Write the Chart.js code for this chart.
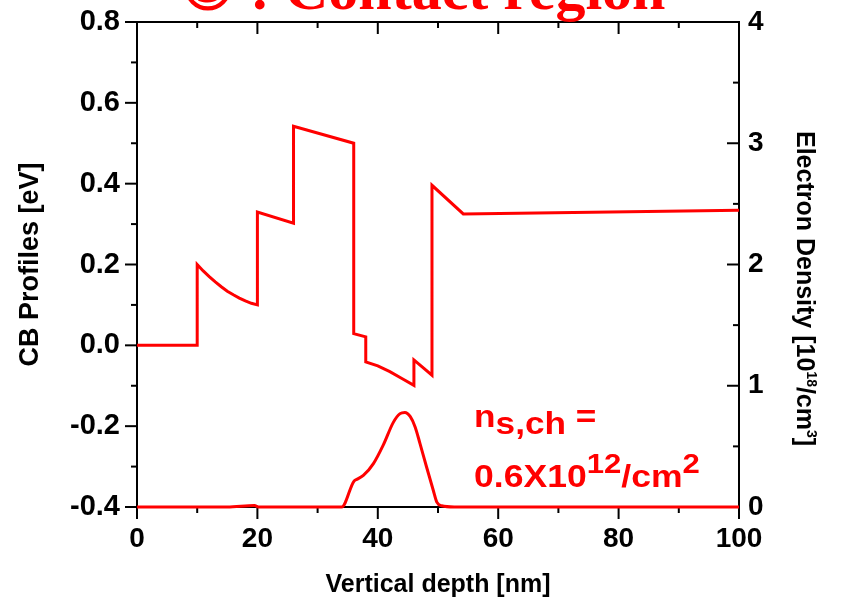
<!DOCTYPE html>
<html>
<head>
<meta charset="utf-8">
<script src="https://cdn.jsdelivr.net/npm/chart.js@4.4.1/dist/chart.umd.min.js"></script>
<style>
  html, body { margin: 0; padding: 0; background: #fff; }
  #wrap { width: 842px; height: 602px; }
</style>
</head>
<body>
<div id="wrap"><canvas id="bandChart" width="842" height="602"></canvas></div>
<script>
// conduction band profile, left axis [eV]
const cbDepth  = [0, 10, 10, 11, 12, 13, 14, 15, 16, 17, 18, 19, 20, 20, 26, 26, 36, 36, 38, 38, 40, 42, 44, 46, 46, 49, 49, 54.2, 100];
const cbEnergy = [0, 0, 0.200, 0.184, 0.170, 0.157, 0.145, 0.134, 0.125, 0.117, 0.110, 0.104, 0.100,
                  0.330, 0.302, 0.542, 0.500, 0.029, 0.021, -0.041, -0.051, -0.065, -0.082, -0.099,
                  -0.036, -0.074, 0.396, 0.325, 0.334];

// electron density, right axis [1e18 / cm3]
const nDepth   = [0, 15, 19.5, 20.3, 34, 36, 36.6, 37.6, 39.3, 40.9, 42.6, 43.7, 44.5, 45.4, 46.2, 47, 48.1, 49.2, 49.8, 50.6, 52.7, 100];
const nDensity = [0, 0, 0.012, 0, 0, 0.21, 0.23, 0.26, 0.36, 0.51, 0.70, 0.77, 0.78, 0.745, 0.66, 0.525, 0.33, 0.14, 0.04, 0.01, 0, 0];

// tick labels
const xTicks  = [0, 20, 40, 60, 80, 100];
const yTicks  = [-0.4, -0.2, 0.0, 0.2, 0.4, 0.6, 0.8];
const y2Ticks = [0, 1, 2, 3, 4];

const RED = '#ff0000';
const SANS = '"Liberation Sans", Arial, sans-serif';

const toPoints = (xs, ys) => xs.map((x, i) => ({ x: x, y: ys[i] }));
const midpoints = arr => arr.slice(1).map((v, i) => (v + arr[i]) / 2);

// fixed axis boxes so the plot area lands where the original has it
const fixBox = (w, h) => s => {
    if (w !== null) s.width = w;
    if (h !== null) s.height = h;
    s.paddingTop = 0;
    s.paddingBottom = 0;
    s.paddingLeft = 0;
    s.paddingRight = 0;
};

// frame + Origin-style ticks (all pointing the same way on both sides)
const frameTicks = {
    id: 'frameTicks',
    beforeDatasetsDraw(chart) {
        const { ctx, chartArea: a, scales } = chart;
        ctx.save();
        ctx.strokeStyle = '#000';
        ctx.lineWidth = 2;
        ctx.strokeRect(a.left, a.top, a.right - a.left, a.bottom - a.top);

        const seg = (x1, y1, x2, y2) => {
            ctx.beginPath();
            ctx.moveTo(x1, y1);
            ctx.lineTo(x2, y2);
            ctx.stroke();
        };
        const xMark = (v, len) => {
            const px = scales.x.getPixelForValue(v);
            seg(px, a.bottom, px, a.bottom + len);
            seg(px, a.top, px, a.top + len);
        };
        xTicks.forEach(v => xMark(v, 12));
        midpoints(xTicks).forEach(v => xMark(v, 6));

        const yMark = (v, len) => {
            const py = scales.y.getPixelForValue(v);
            seg(a.left - len, py, a.left, py);
        };
        yTicks.forEach(v => yMark(v, 12));
        midpoints(yTicks).forEach(v => yMark(v, 6));

        const y2Mark = (v, len) => {
            const py = scales.y2.getPixelForValue(v);
            seg(a.right - len, py, a.right, py);
        };
        y2Ticks.forEach(v => y2Mark(v, 12));
        midpoints(y2Ticks).forEach(v => y2Mark(v, 6));
        ctx.restore();
    }
};

// draws a run of [text, size, rise] pieces starting at x=0
function drawRich(ctx, parts, family) {
    let x = 0;
    parts.forEach(([text, size, rise]) => {
        ctx.font = 'bold ' + size + 'px ' + family;
        ctx.fillText(text, x, -rise);
        x += ctx.measureText(text).width;
    });
    return x;
}

// texts: slide title, right axis title with superscripts, sheet density note
const textLayer = {
    id: 'textLayer',
    afterDraw(chart) {
        const { ctx, scales } = chart;
        ctx.save();
        ctx.textBaseline = 'alphabetic';
        ctx.textAlign = 'left';

        // title (cut off at the top of the picture)
        ctx.fillStyle = RED;
        ctx.font = 'bold 60px "Liberation Serif", "Times New Roman", serif';
        ctx.fillText('③ : Contact region', 181, 9);

        // right axis title, rotated clockwise
        ctx.fillStyle = '#000';
        const rightParts = [['Electron Density [10', 25, 0], ['18', 14, 10], ['/cm', 25, 0], ['3', 14, 10], [']', 25, 0]];
        ctx.save();
        ctx.translate(797, 131);
        ctx.rotate(Math.PI / 2);
        drawRich(ctx, rightParts, SANS);
        ctx.restore();

        // n_s,ch note, anchored in data units
        ctx.fillStyle = RED;
        const nx = scales.x.getPixelForValue(56.0);
        const line1 = scales.y2.getPixelForValue(0.66);
        const line2 = scales.y2.getPixelForValue(0.165);
        ctx.save();
        ctx.translate(nx, line1);
        ctx.scale(1.1, 1);
        drawRich(ctx, [['n', 32, 0], ['s,ch', 32, -7], [' =', 32, 0]], SANS);
        ctx.restore();
        ctx.save();
        ctx.translate(nx, line2);
        ctx.scale(1.11, 1);
        drawRich(ctx, [['0.6X10', 32, 0], ['12', 28, 14], ['/cm', 32, 0], ['2', 28, 14]], SANS);
        ctx.restore();

        ctx.restore();
    }
};

const ctx = document.getElementById('bandChart').getContext('2d');

new Chart(ctx, {
    type: 'scatter',
    data: {
        datasets: [
            {
                label: 'CB profile',
                data: toPoints(cbDepth, cbEnergy),
                yAxisID: 'y',
                showLine: true,
                borderColor: RED,
                borderWidth: 3,
                pointRadius: 0,
                tension: 0,
                clip: 4
            },
            {
                label: 'Electron density',
                data: toPoints(nDepth, nDensity),
                yAxisID: 'y2',
                showLine: true,
                borderColor: RED,
                borderWidth: 3,
                pointRadius: 0,
                cubicInterpolationMode: 'monotone',
                clip: 4
            }
        ]
    },
    options: {
        responsive: false,
        animation: false,
        devicePixelRatio: 1,
        layout: { padding: { top: 22, left: 0, right: 0, bottom: 0 } },
        plugins: {
            legend: { display: false },
            tooltip: { enabled: false }
        },
        scales: {
            x: {
                type: 'linear',
                position: 'bottom',
                min: 0,
                max: 100,
                afterBuildTicks: s => { s.ticks = xTicks.map(v => ({ value: v })); },
                afterFit: fixBox(null, 95),
                grid: { display: false, drawTicks: false },
                border: { display: false },
                ticks: {
                    color: '#000',
                    padding: 15,
                    maxRotation: 0,
                    font: { family: SANS, size: 28, weight: 'bold' }
                },
                title: {
                    display: true,
                    text: 'Vertical depth [nm]',
                    color: '#000',
                    padding: { top: 0, bottom: 2 },
                    font: { family: SANS, size: 25, weight: 'bold' }
                }
            },
            y: {
                type: 'linear',
                position: 'left',
                min: -0.4,
                max: 0.8,
                afterBuildTicks: s => { s.ticks = yTicks.map(v => ({ value: v })); },
                afterFit: fixBox(137, null),
                grid: { display: false, drawTicks: false },
                border: { display: false },
                ticks: {
                    color: '#000',
                    padding: 17,
                    font: { family: SANS, size: 29, weight: 'bold' },
                    callback: v => v.toFixed(1)
                },
                title: {
                    display: true,
                    text: 'CB Profiles [eV]',
                    color: '#000',
                    padding: { top: 14, bottom: 0 },
                    font: { family: SANS, size: 27, weight: 'bold' }
                }
            },
            y2: {
                type: 'linear',
                position: 'right',
                min: 0,
                max: 4,
                afterBuildTicks: s => { s.ticks = y2Ticks.map(v => ({ value: v })); },
                afterFit: fixBox(103, null),
                grid: { display: false, drawTicks: false },
                border: { display: false },
                ticks: {
                    color: '#000',
                    padding: 9,
                    font: { family: SANS, size: 28, weight: 'bold' },
                    callback: v => String(v)
                }
            }
        }
    },
    plugins: [frameTicks, textLayer]
});
</script>
</body>
</html>
